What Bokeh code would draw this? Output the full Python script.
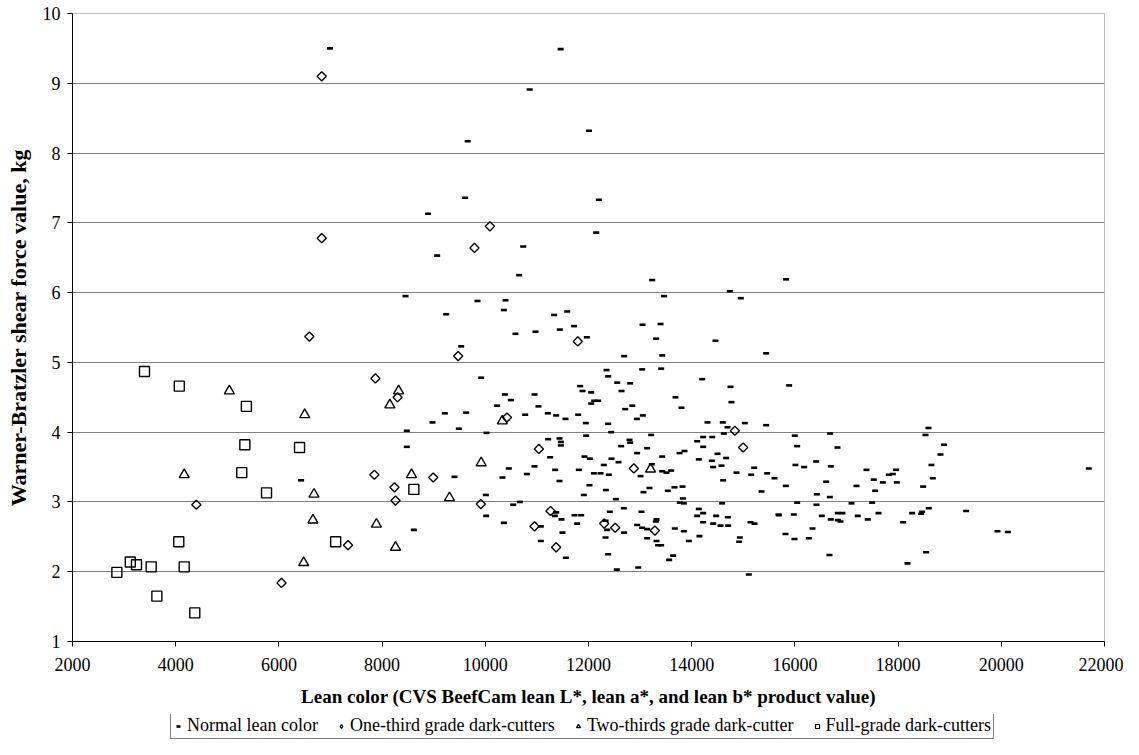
from bokeh.plotting import figure
from bokeh.layouts import column
from bokeh.models import Range1d, Legend, LegendItem, FixedTicker
from bokeh.embed import file_html
from bokeh.resources import INLINE

# ---------------- data ----------------
normal_x = [6990, 11460, 10860, 12010, 9660, 9610, 8890, 12200, 12150, 10735,
            9067, 10656, 13234, 14739, 14952, 8454, 13466, 9849, 10392, 9242,
            10359, 11335, 11587, 13047, 13396, 11722, 11444, 11968, 10585, 10973,
            13311, 14461, 9532, 12691, 13428, 15443, 12349, 12381, 13040, 13408,
            14203, 9920, 12556, 12808, 14752, 11839, 11884, 12052, 12640, 10379,
            10495, 10954, 12110, 12187, 12052, 13686, 13802, 14771, 10230, 11031,
            12711, 12849, 9216, 9629, 10773, 11212, 11373, 11554, 11800, 12937,
            13053, 8977, 9487, 11948, 12381, 14306, 14603, 14694, 15030, 15443,
            8479, 10023, 12439, 13215, 11218, 11438, 11464, 11464, 11955, 12633,
            12795, 12808, 12943, 13137, 8479, 11257, 11922, 12026, 12446, 12582,
            12297, 13428, 13764, 13861, 14106, 14222, 14222, 14397, 14500, 14623,
            14668, 14138, 14390, 14416, 14578, 15211, 15463, 15605, 15153, 14868,
            14610, 15353, 9403, 10456, 10333, 10805, 10953, 11354, 11438, 11813,
            12104, 12234, 12394, 13008, 13227, 13428, 13512, 13602, 12019, 12336,
            13182, 13066, 13537, 13667, 13822, 13828, 10010, 11909, 12530, 10017,
            8615, 10669, 10540, 11374, 11348, 11477, 11729, 11858, 11780, 10359,
            11076, 11496, 11076, 11561, 12330, 12362, 12330, 12413, 12685, 12691,
            12381, 12549, 12963, 13027, 12943, 13040, 13137, 13318, 13305, 13137,
            13318, 13408, 13350, 13641, 13563, 13673, 13848, 13945, 14151, 14138,
            14106, 14222, 14222, 14416, 14474, 14558, 14700, 14707, 14591, 14933,
            14920, 15140, 15217, 15107, 15689, 13848, 13770, 6430, 15830, 15889,
            15998, 16044, 16683, 16825, 16011, 16179, 16412, 16696, 15824, 16606,
            16425, 16677, 17387, 17193, 17529, 17555, 17704, 17820, 17897, 17962,
            17975, 18485, 18531, 18589, 18647, 18673, 18821, 18892, 21696, 16044,
            16418, 15682, 15979, 16522, 16696, 16832, 16922, 16832, 16883, 16341,
            15817, 15992, 16270, 16670, 17097, 17219, 17413, 17497, 17620, 18098,
            18272, 18447, 18466, 18595, 18544, 18182, 19319, 19926, 20127]
normal_y = [9.50, 9.49, 8.91, 8.32, 8.17, 7.36, 7.13, 7.33, 6.86, 6.66,
            6.53, 6.25, 6.18, 6.02, 5.92, 5.95, 5.95, 5.88, 5.89, 5.69,
            5.75, 5.68, 5.73, 5.54, 5.55, 5.52, 5.47, 5.36, 5.41, 5.44,
            5.34, 5.31, 5.23, 5.09, 5.10, 5.13, 4.89, 4.80, 4.90, 4.91,
            4.76, 4.78, 4.71, 4.70, 4.65, 4.66, 4.59, 4.57, 4.59, 4.54,
            4.46, 4.54, 4.45, 4.45, 4.41, 4.50, 4.35, 4.43, 4.38, 4.37,
            4.33, 4.38, 4.27, 4.28, 4.25, 4.27, 4.24, 4.19, 4.25, 4.19,
            4.24, 4.14, 4.05, 4.13, 4.12, 4.14, 4.14, 4.07, 4.13, 4.10,
            4.02, 3.99, 4.00, 3.96, 3.90, 3.91, 3.86, 3.81, 3.95, 3.80,
            3.89, 3.85, 3.70, 3.77, 3.79, 3.64, 3.65, 3.62, 3.62, 3.57,
            3.53, 3.65, 3.70, 3.73, 3.87, 3.93, 3.79, 3.93, 3.69, 3.98,
            3.63, 3.61, 3.59, 3.50, 3.52, 3.49, 3.41, 3.34, 3.39, 3.42,
            3.31, 3.15, 3.36, 3.48, 3.35, 3.40, 3.51, 3.46, 3.30, 3.46,
            3.41, 3.41, 3.39, 3.37, 3.54, 3.44, 3.42, 3.45, 3.24, 3.17,
            3.20, 3.14, 3.16, 3.21, 3.22, 3.05, 3.10, 3.10, 3.04, 2.80,
            2.60, 3.00, 2.96, 2.85, 2.80, 2.75, 2.81, 2.81, 2.69, 2.70,
            2.65, 2.56, 2.44, 2.20, 2.73, 2.60, 2.49, 2.86, 2.91, 2.56,
            2.25, 2.03, 2.06, 2.86, 2.67, 2.63, 2.61, 2.75, 2.72, 2.48,
            2.44, 2.38, 2.38, 2.23, 2.17, 2.62, 2.58, 2.44, 2.51, 2.90,
            2.80, 2.84, 2.71, 2.69, 2.80, 2.66, 2.78, 2.66, 2.98, 2.49,
            2.43, 2.71, 2.69, 1.96, 2.81, 2.98, 2.99, 3.31, 6.19, 4.67,
            3.95, 3.80, 3.98, 3.78, 3.53, 3.50, 3.58, 3.51, 3.23, 3.29,
            3.11, 3.07, 3.46, 3.23, 3.32, 3.16, 3.28, 3.39, 3.40, 3.46,
            3.28, 3.22, 3.96, 4.06, 3.53, 3.34, 3.68, 3.82, 3.48, 2.99,
            2.96, 2.82, 2.82, 2.80, 2.75, 2.84, 2.84, 2.74, 2.72, 2.62,
            2.54, 2.47, 2.48, 2.24, 2.98, 2.80, 2.75, 2.99, 2.84, 2.71,
            2.84, 2.83, 2.86, 2.91, 2.28, 2.12, 2.87, 2.58, 2.57]

third_x = [6830, 6830, 6590, 7870, 8300, 7850, 8240, 8260, 4400, 7340,
           6050, 8990, 9913, 9790, 10090, 9474, 11793, 10420, 11038, 14836,
           14997, 12879, 11264, 10954, 11373, 12304, 12517, 13286]
third_y = [9.10, 6.78, 5.37, 4.77, 4.50, 3.39, 3.21, 3.02, 2.96, 2.38,
           1.84, 3.35, 2.97, 6.64, 6.95, 5.09, 5.30, 4.21, 3.76, 4.02,
           3.78, 3.48, 2.87, 2.65, 2.35, 2.69, 2.63, 2.59]

twothird_x = [5040, 4165, 6500, 6680, 6660, 6480, 7890, 8260, 8150, 8320,
              8570, 9306, 9920, 13202, 10330]
twothird_y = [4.59, 3.39, 4.25, 3.11, 2.74, 2.13, 2.68, 2.35, 4.39, 4.59,
              3.39, 3.06, 3.56, 3.47, 4.16]

full_x = [3395, 4070, 5370, 5340, 6400, 5280, 5760, 4060, 7100, 2860,
          3120, 3240, 3525, 4165, 3635, 4370, 8615]
full_y = [4.87, 4.66, 4.37, 3.82, 3.78, 3.42, 3.13, 2.43, 2.43, 1.99,
          2.14, 2.10, 2.07, 2.07, 1.65, 1.41, 3.18]

x_ticks = [2000, 4000, 6000, 8000, 10000, 12000, 14000, 16000, 18000, 20000, 22000]
y_ticks = [1, 2, 3, 4, 5, 6, 7, 8, 9, 10]

labels = ["Normal lean color", "One-third grade dark-cutters",
          "Two-thirds grade dark-cutter", "Full-grade dark-cutters"]

# ---------------- main figure ----------------
FONT = "Liberation Serif"
W = 1123
p = figure(frame_width=1032, frame_height=628, output_backend="svg",
           toolbar_location=None,
           x_range=Range1d(2000, 22000), y_range=Range1d(1, 10),
           min_border_left=72, min_border_right=W - 72 - 1032, min_border_top=13,
           min_border_bottom=73)

p.background_fill_color = "white"
p.border_fill_color = "white"
p.outline_line_color = "#7f7f7f"
p.outline_line_width = 1
p.outline_line_dash = "1 1"

p.xgrid.grid_line_color = None
p.ygrid.grid_line_color = "#808080"
p.ygrid.grid_line_width = 1

p.xaxis.ticker = FixedTicker(ticks=x_ticks)
p.yaxis.ticker = FixedTicker(ticks=y_ticks)
for ax in (p.xaxis[0], p.yaxis[0]):
    ax.axis_line_color = "black"
    ax.axis_line_width = 1
    ax.major_tick_line_color = "black"
    ax.major_tick_out = 5
    ax.major_tick_in = 0
    ax.minor_tick_line_color = None
    ax.major_label_text_font = FONT
    ax.major_label_text_font_size = "18px"
    ax.major_label_text_color = "black"
    ax.axis_label_text_font = FONT
    ax.axis_label_text_font_style = "bold"
    ax.axis_label_text_color = "black"

p.xaxis.axis_label = "Lean color (CVS BeefCam lean L*, lean a*, and lean b* product value)"
p.yaxis.axis_label = "Warner-Bratzler shear force value, kg"
p.xaxis.axis_label_text_font_size = "19px"
p.yaxis.axis_label_text_font_size = "22px"
p.xaxis.axis_label_standoff = 12
p.yaxis.axis_label_standoff = 9
p.xaxis.major_label_standoff = 11
p.yaxis.major_label_standoff = 7

r_norm = p.scatter(normal_x, normal_y, marker="dash", size=6, line_color="black",
                   line_width=2.6)
r_third = p.scatter(third_x, third_y, marker="square", angle=0.7854, size=6.5,
                    fill_color=None, line_color="black", line_width=1.4)
r_two = p.scatter(twothird_x, twothird_y, marker="triangle", size=10,
                  fill_color=None, line_color="black", line_width=1.4)
r_full = p.scatter(full_x, full_y, marker="square", size=10,
                   fill_color=None, line_color="black", line_width=1.4)

# ---------------- legend strip below the chart ----------------
# the same series are drawn here only to feed the legend; the strip's ranges
# keep them out of view
p2 = figure(width=W, height=739 - (13 + 628 + 73), output_backend="svg",
            toolbar_location=None, x_range=Range1d(0, 1), y_range=Range1d(0, 1),
            x_axis_location=None, y_axis_location=None, min_border=0)
p2.outline_line_color = None
p2.grid.visible = False
p2.background_fill_color = "white"
p2.border_fill_color = "white"

l_norm = p2.scatter(normal_x, normal_y, marker="dash", size=6, line_color="black",
                    line_width=2.6)
l_third = p2.scatter(third_x, third_y, marker="diamond", size=10, fill_color=None,
                     line_color="black", line_width=1.2)
l_two = p2.scatter(twothird_x, twothird_y, marker="triangle", size=9,
                   fill_color=None, line_color="black", line_width=1.2)
l_full = p2.scatter(full_x, full_y, marker="square", size=9, fill_color=None,
                    line_color="black", line_width=1.2)

legend = Legend(items=[LegendItem(label=labels[0], renderers=[l_norm]),
                       LegendItem(label=labels[1], renderers=[l_third]),
                       LegendItem(label=labels[2], renderers=[l_two]),
                       LegendItem(label=labels[3], renderers=[l_full])],
                orientation="horizontal", location=(98, 0))
legend.label_text_font = FONT
legend.label_text_font_size = "18px"
legend.label_text_color = "black"
legend.border_line_color = "black"
legend.border_line_width = 1
legend.background_fill_color = "white"
legend.padding = 2
legend.spacing = 18
legend.glyph_width = 10
legend.glyph_height = 16
legend.label_standoff = 4
legend.label_height = 16
legend.margin = 0
p2.add_layout(legend)

layout = column(p, p2, spacing=0)
open("out.html", "w").write(file_html(layout, INLINE))
